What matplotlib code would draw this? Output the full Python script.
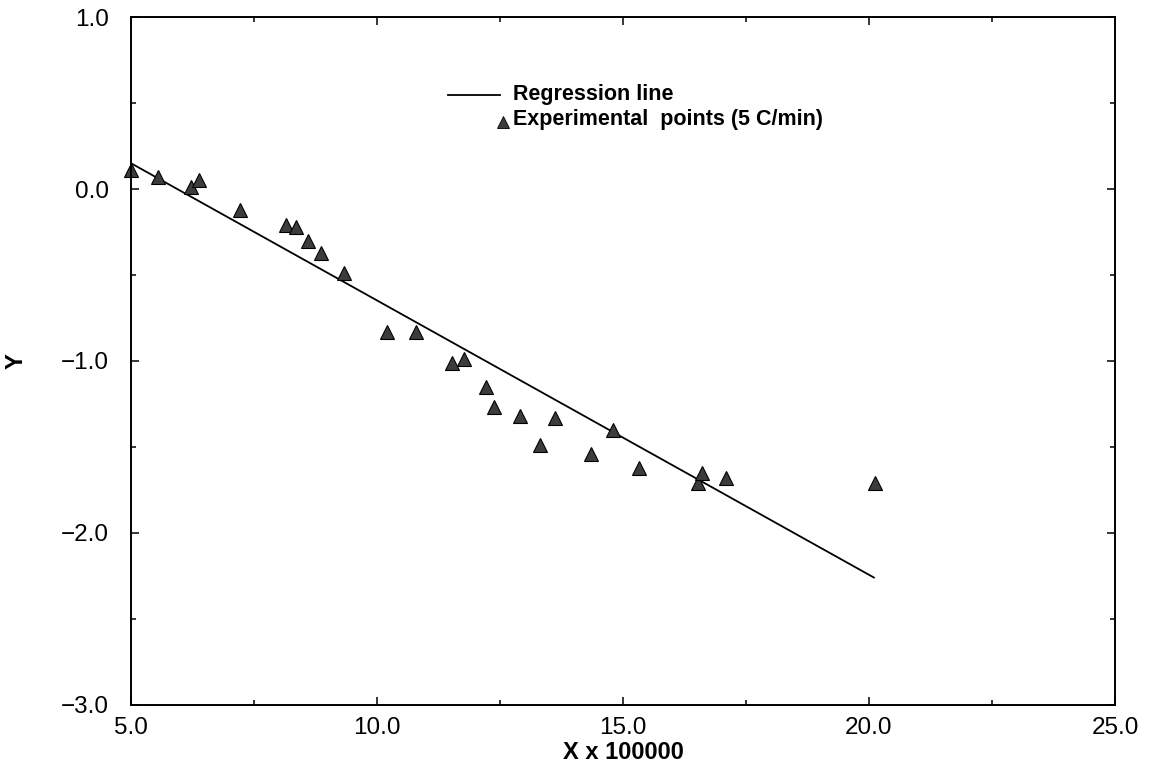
"""Regression of Y against X x 100000, experimental points at 5 C/min."""
import matplotlib
matplotlib.use("Agg")
import matplotlib.pyplot as plt
from matplotlib.lines import Line2D
from matplotlib.ticker import FuncFormatter, MultipleLocator

plt.rcParams["font.family"] = ["Liberation Sans", "DejaVu Sans"]

# experimental points
exp_x = [5.0, 5.55, 6.22, 6.38, 7.22, 8.15, 8.35, 8.6, 8.86, 9.33,
         10.2, 10.79, 11.52, 11.77, 12.22, 12.38, 12.9, 13.31, 13.62,
         14.35, 14.8, 15.33, 16.52, 16.6, 17.09, 20.12]
exp_y = [0.11, 0.07, 0.01, 0.05, -0.12, -0.21, -0.22, -0.30, -0.37, -0.49,
         -0.83, -0.83, -1.01, -0.99, -1.15, -1.27, -1.32, -1.49, -1.33,
         -1.54, -1.40, -1.62, -1.71, -1.65, -1.68, -1.71]

# regression line end points
reg_x = [5.0, 20.1]
reg_y = [0.15, -2.26]


def one_decimal(value, _pos):
    return f"{value:.1f}".replace("-", "\u2212")


fig = plt.figure(figsize=(11.59, 7.77), dpi=100)
ax = fig.add_axes([0.113, 0.093, 0.849, 0.885])

ax.plot(reg_x, reg_y, color="black", lw=1.3)
ax.plot(exp_x, exp_y, ls="none", marker="^", ms=10.5, mfc="#3c3c3c",
        mec="black", mew=0.8, clip_on=False)

ax.set_xlim(5.0, 25.0)
ax.set_ylim(-3.0, 1.0)
ax.xaxis.set_major_locator(MultipleLocator(5))
ax.xaxis.set_minor_locator(MultipleLocator(2.5))
ax.yaxis.set_major_locator(MultipleLocator(1))
ax.yaxis.set_minor_locator(MultipleLocator(0.5))
ax.xaxis.set_major_formatter(FuncFormatter(one_decimal))
ax.yaxis.set_major_formatter(FuncFormatter(one_decimal))
ax.tick_params(which="both", direction="in", top=True, right=True,
               labelsize=17.5, width=1.1)
ax.tick_params(which="major", length=6)
ax.tick_params(which="minor", length=3.5)
ax.tick_params(axis="y", which="major", pad=16)
ax.tick_params(axis="x", which="major", pad=9)
for spine in ax.spines.values():
    spine.set_linewidth(1.4)

ax.set_xlabel("X x 100000", fontsize=17, fontweight="bold", labelpad=1)
ax.set_ylabel("Y", fontsize=17, fontweight="bold", va="center")
ax.yaxis.set_label_coords(-0.117, 0.5)

# legend drawn by hand to keep the original layout
ax.add_line(Line2D([0.322, 0.375], [0.886, 0.886], transform=ax.transAxes,
                   color="black", lw=1.3))
ax.text(0.388, 0.888, "Regression line", transform=ax.transAxes,
        fontsize=15.5, fontweight="bold", va="center")
ax.add_line(Line2D([0.378], [0.847], transform=ax.transAxes, ls="none",
                   marker="^", ms=8, mfc="#3c3c3c", mec="black", mew=0.6))
ax.text(0.388, 0.851, "Experimental  points (5 C/min)", transform=ax.transAxes,
        fontsize=15.5, fontweight="bold", va="center")

fig.savefig("out.png", dpi=100)
